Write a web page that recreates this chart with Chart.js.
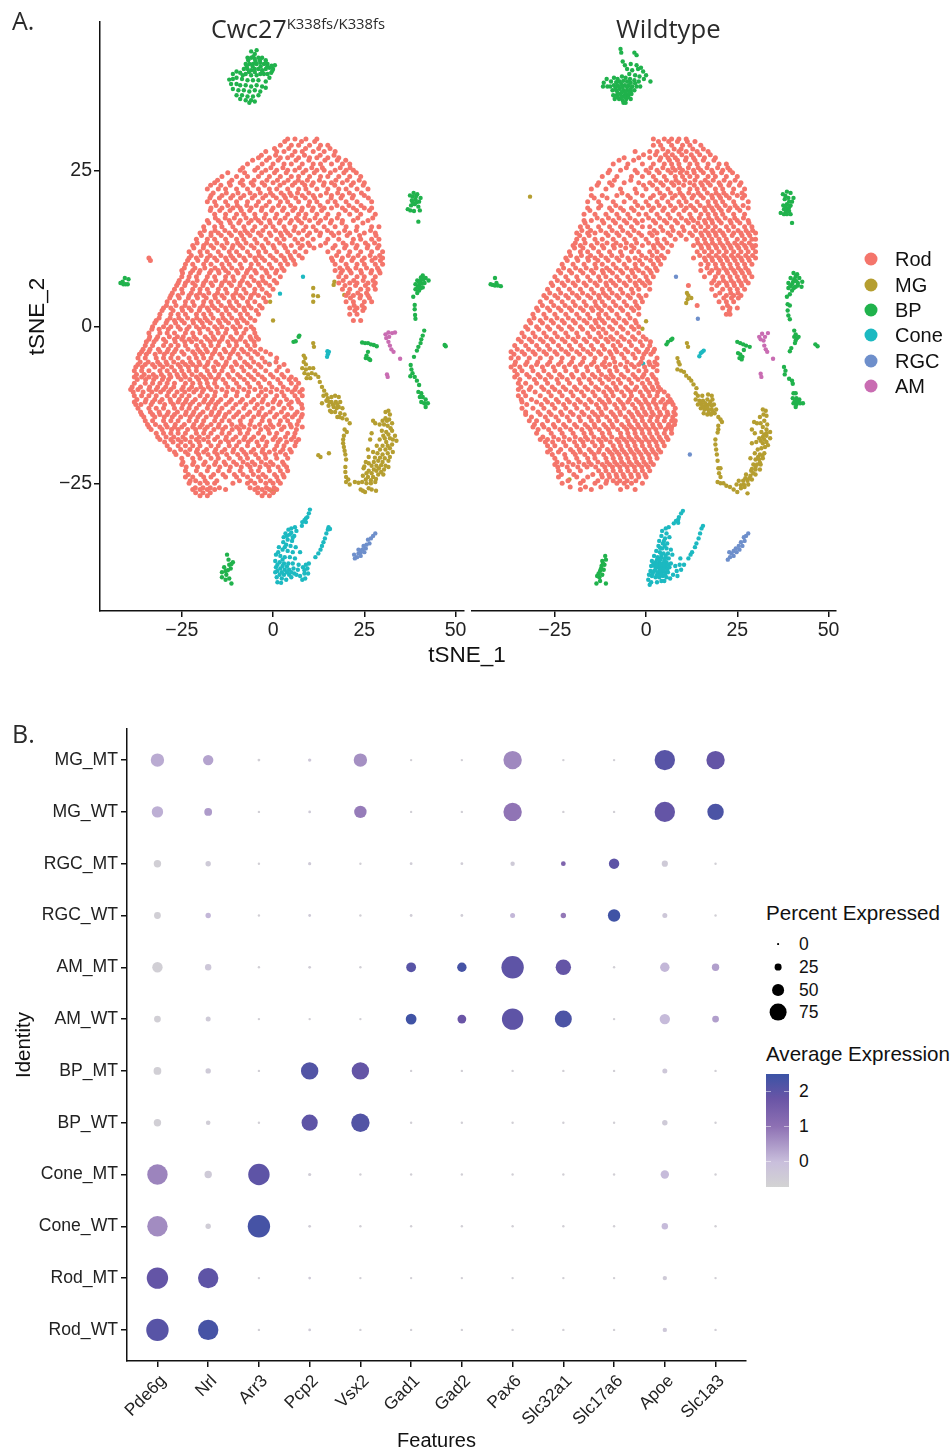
<!DOCTYPE html>
<html><head><meta charset="utf-8">
<script src="https://cdn.jsdelivr.net/npm/chart.js@4/dist/chart.umd.min.js"></script>
<style>
html,body{margin:0;padding:0;background:#fff}
body{position:relative;width:951px;height:1451px;overflow:hidden;font-family:"Liberation Sans",sans-serif;color:#111}
canvas{position:absolute}
.t{position:absolute;white-space:nowrap;line-height:1}
.o{font-family:"Open Sans",sans-serif;color:#2a2a2a}
.c{transform:translate(-50%,-50%)}
.d{position:absolute;border-radius:50%;transform:translate(-50%,-50%)}
</style></head><body>
<canvas id="left" width="470" height="680" style="left:0;top:0"></canvas>
<canvas id="right" width="400" height="680" style="left:465px;top:0"></canvas>
<canvas id="dots" width="760" height="753" style="left:0;top:700px"></canvas>

<div class="t o" style="left:12px;top:8px;font-size:25px">A.</div>
<div class="t o" style="left:12px;top:721px;font-size:25px">B.</div>
<div class="t o" style="left:211px;top:16px;font-size:25px">Cwc27<span style="font-size:14.8px;position:relative;top:-9px">K338fs/K338fs</span></div>
<div class="t o" style="left:616px;top:16px;font-size:25.7px">Wildtype</div>
<div class="t c" style="left:467px;top:655px;font-size:22.5px">tSNE_1</div>
<div id="typeLegend"></div>

<div class="t" style="left:766px;top:903px;font-size:20.6px">Percent Expressed</div>
<div id="sizeLegend"></div>
<div class="t" style="left:766px;top:1044px;font-size:20.6px">Average Expression</div>
<div style="position:absolute;left:766px;top:1074px;width:23px;height:113px;background:linear-gradient(to top,#d3d3d3 0%,#c9bfdc 22%,#8d70b3 54%,#6a55a6 78%,#3b53a5 100%)"></div>
<div id="colorLegend"></div>

<script>
// ---------- Panel A: tSNE points ----------
// Rod clusters are listed as rows: tSNE_2 value, then the tSNE_1 values on that row.
const rodMtRows = [
[30,4,6,9,12],[29,2,5,7,10,13,15],[28,-2,1,3,6,8,11,14,17],[27,-4,-1,2,4,7,10,12,15,18],
[26,-7,-3,0,3,5,8,11,13,16,19,21],[25,-9,-5,-2,1,4,6,9,12,14,17,20,22],
[24,-14,-10,-7,-4,-1,2,5,7,10,13,15,18,21,24],[23,-16,-12,-9,-6,-3,0,3,6,8,11,14,16,19,22,25],
[22,-18,-15,-13,-10,-7,-4,-1,1,4,7,9,12,15,18,20,23,26],[21,-17,-14,-11,-8,-5,-2,0,3,5,8,11,13,16,19,22,25],
[20,-18,-16,-13,-10,-7,-4,-1,2,4,7,10,12,15,17,20,23,27],[19,-17,-14,-11,-9,-6,-3,0,3,6,8,11,14,16,19,22,25,27],
[18,-16,-13,-10,-8,-5,-2,1,4,7,9,12,15,18,21,24,28],[17,-18,-15,-12,-9,-6,-4,-1,2,5,7,10,13,16,19,22,26],
[16,-19,-16,-14,-11,-8,-5,-2,0,3,6,9,11,14,17,20,23,27,29],[15,-20,-17,-15,-12,-9,-7,-4,-1,2,4,7,10,13,16,18,21,25,28],
[14,-21,-18,-16,-13,-10,-8,-5,-2,1,3,6,8,11,15,18,22,24,27,29],[13,-22,-19,-17,-14,-11,-9,-6,-3,0,3,5,8,10,13,17,20,23,26,29],
[12,-23,-20,-18,-15,-12,-10,-7,-4,-2,1,4,6,9,15,18,21,24,27,30],[11,-23,-21,-18,-16,-13,-11,-8,-5,-3,0,3,5,8,16,19,22,25,28,30],
[10,-24,-22,-19,-17,-14,-12,-9,-6,-4,-1,2,4,6,17,20,23,25,28,30],[9,-25,-22,-20,-17,-15,-13,-10,-7,-5,-2,1,3,17,19,21,24,27,29],
[8,-25,-23,-21,-18,-16,-13,-11,-8,-6,-3,-1,2,18,20,23,25,28],[7,-26,-24,-22,-19,-17,-14,-12,-9,-7,-4,-2,1,18,21,23,26,28],
[6,-27,-25,-22,-20,-18,-15,-13,-10,-8,-5,-3,0,19,21,24,26,28],[5,-28,-26,-23,-21,-19,-16,-14,-11,-9,-6,-4,-1,20,22,24,26],
[4,-29,-27,-24,-22,-19,-17,-15,-12,-10,-7,-5,-2,20,22,25,27],[3,-30,-28,-25,-23,-20,-18,-16,-13,-11,-8,-6,-3,21,23,25],
[2,-31,-28,-26,-24,-21,-19,-17,-14,-12,-9,-7,-4,21,23],[1,-32,-29,-27,-25,-22,-20,-18,-15,-13,-10,-8,-5,22,24],
[0,-33,-30,-28,-26,-23,-21,-19,-16,-14,-11,-9,-6],[-1,-34,-31,-29,-27,-24,-22,-20,-17,-15,-13,-10,-8,-5],
[-2,-34,-32,-30,-27,-25,-23,-21,-18,-16,-14,-11,-9,-6,-4],[-3,-35,-33,-30,-28,-26,-24,-21,-19,-17,-15,-12,-10,-7,-5],
[-4,-36,-34,-31,-29,-27,-25,-22,-20,-18,-16,-13,-11,-8,-5,-2],[-5,-37,-35,-32,-30,-28,-26,-23,-21,-19,-17,-14,-12,-9,-6,-3,1],
[-6,-37,-35,-33,-31,-29,-26,-24,-22,-20,-18,-15,-13,-10,-7,-4,-1,3],[-7,-38,-36,-34,-31,-29,-27,-25,-23,-21,-18,-16,-14,-11,-8,-5,-2,1,4],
[-8,-38,-36,-34,-32,-30,-28,-26,-24,-21,-19,-17,-15,-12,-9,-6,-3,0,3,5],[-9,-38,-35,-33,-31,-29,-27,-24,-22,-20,-18,-16,-13,-10,-7,-4,-1,2,5,7],
[-10,-39,-37,-34,-32,-30,-28,-25,-23,-21,-19,-17,-14,-11,-8,-5,-2,1,4,6,8],[-11,-38,-36,-34,-32,-29,-27,-25,-23,-20,-18,-16,-13,-10,-7,-4,-2,1,3,6,8],
[-12,-38,-35,-33,-31,-28,-26,-24,-22,-19,-17,-15,-12,-9,-6,-3,0,2,5,7],[-13,-37,-34,-32,-30,-27,-25,-23,-21,-18,-16,-14,-11,-8,-5,-3,0,3,5,8],
[-14,-36,-33,-31,-29,-27,-24,-22,-20,-17,-15,-13,-10,-7,-4,-2,1,4,6,8],[-15,-35,-33,-30,-28,-26,-23,-21,-19,-16,-14,-12,-9,-6,-3,-1,2,4,7],
[-16,-34,-31,-29,-27,-25,-22,-20,-18,-15,-13,-10,-8,-5,-2,0,3,5,8],[-17,-32,-30,-28,-26,-24,-21,-19,-17,-14,-12,-9,-7,-4,-1,1,4,6],
[-18,-31,-28,-26,-24,-21,-19,-16,-13,-11,-8,-6,-3,0,2,5,7],[-19,-29,-26,-24,-22,-20,-17,-15,-12,-10,-7,-4,-2,1,3,6],
[-20,-27,-24,-21,-19,-16,-14,-11,-8,-6,-3,-1,2,5],[-21,-25,-22,-20,-17,-15,-12,-9,-7,-4,-2,1,4],
[-22,-25,-22,-19,-16,-13,-10,-7,-5,-2,0,3],[-23,-24,-21,-18,-15,-12,-9,-6,-4,-1,2,4],
[-24,-24,-22,-19,-17,-13,-10,-7,-4,-2,1,3],[-25,-23,-20,-18,-16,-11,-7,-5,-2,0,2],
[-26,-22,-20,-18,-16,-13,-5,-3,-1,1],[-27,-20,-18,-3,-1],[11,-34],[10.6,-33.6]
];
const rodMtExtra = [
[29.6,3.2,7.8,11.4],[28.5,.4,4.3,8.9,12.5,15.6],[27.4,-3.2,.7,5.2,8.6,12.9,16.7],[26.6,-5.6,-1.8,1.4,6.3,9.8,14.2,17.6,19.9],
[25.4,-8.3,-4.2,-.6,2.7,7.2,10.6,13.5,18.4,21.1],[24.6,-12.4,-7.8,-3.1,.4,3.6,8.2,11.3,15.7,19.4,22.8],
[23.4,-15.2,-11.3,-8.4,-5.2,-1.7,1.2,4.1,6.9,9.4,12.7,17.2,20.3,23.6],[22.6,-17.1,-14.3,-11.7,-8.2,-5.4,-2.3,1.9,5.3,8.7,10.6,13.8,16.9,21.4,24.7],
[21.4,-16.4,-12.8,-9.6,-6.3,-3.5,-.7,2.2,4.6,6.7,9.8,14.6,17.7,20.9,24.2],[20.6,-17.3,-14.7,-11.6,-8.9,-5.7,-2.8,.9,3.4,6.2,8.8,11.4,15.9,18.6,21.7,26.1],
[19.4,-15.6,-12.4,-9.8,-7.2,-4.6,-1.9,1.5,4.8,9.7,12.9,17.5,20.8,24.1],[18.6,-17.2,-14.6,-11.8,-8.7,-6.4,-3.2,-.4,2.6,5.4,7.8,10.7,13.3,19.8,22.9,26.4],
[17.4,-15.8,-13.1,-10.6,-7.4,-4.8,-2.4,.6,3.3,6.4,8.7,11.5,14.4,17.6,23.2,27.3],[16.6,-17.6,-14.3,-11.7,-9.4,-6.7,-3.3,-.8,1.7,4.6,7.8,12.4,15.7,18.9,24.6],
[15.4,-18.8,-15.9,-13.2,-10.3,-7.7,-5.6,-2.8,.7,3.4,5.7,8.3,11.8,14.9,19.6,22.8,26.7],[14.6,-19.6,-17,-14.2,-11.4,-8.6,-6.3,-3.3,-.6,2.3,4.7,9.4,12.8,16.6,20.3,23.7,28.2],
[13.4,-20.8,-18.2,-15.4,-12.6,-9.7,-7.4,-4.4,-1.3,1.8,6.8,9.6,14.4,19.2,21.7,25.3,27.8],[12.6,-21.7,-19.1,-16.3,-13.4,-11.2,-8.3,-5.2,-2.6,.3,3.4,7.4,11.2,16.4,19.6,22.7,25.8,28.6],
[11.4,-22.4,-19.7,-17.2,-14.3,-11.6,-9.2,-6.3,-3.8,-.8,2.2,4.7,7.1,17.4,20.6,23.3,26.6,29.2],[10.6,-23.4,-20.6,-18.3,-15.4,-12.7,-10.4,-7.6,-4.7,-2.3,.8,3.3,5.6,16.3,18.7,21.6,24.4,27.1,29.4],
[9.4,-24.3,-21.4,-18.7,-15.9,-13.6,-11.3,-8.6,-6.2,-3.1,-.4,2.4,18.3,20.4,22.7,25.6,28.6],[8.6,-24.8,-22.6,-20.3,-17.4,-14.8,-12.2,-9.6,-7.3,-4.6,-1.7,.7,18.6,21.4,24.2,26.8,29.3],
[7.4,-25.7,-23.3,-20.8,-18.4,-15.7,-13.1,-10.7,-8.4,-5.2,-2.8,.3,19.2,22.1,24.7,27.4],[6.6,-26.4,-24.2,-21.3,-19.2,-16.6,-14.2,-11.4,-9.1,-6.4,-3.7,-.9,19.7,22.6,25.3,27.6],
[5.4,-27.6,-24.8,-22.4,-20.1,-17.6,-15.2,-12.6,-10.2,-7.4,-5.1,-1.8,20.6,23.2,25.6],[4.6,-28.3,-25.7,-23.2,-20.7,-18.3,-15.8,-13.4,-10.8,-8.3,-6.2,-2.6,21.2,23.8,26.4],
[3.4,-29.2,-26.6,-24.1,-21.6,-19.2,-16.7,-14.2,-11.7,-9.3,-6.7,-3.7,22.2,24.4],[2.6,-30.4,-27.4,-24.8,-22.4,-20.2,-17.6,-15.1,-12.8,-10.2,-7.8,-4.6,22.4,24.6],
[1.4,-31.2,-28.2,-25.8,-23.4,-20.9,-18.6,-16.4,-13.7,-11.3,-8.7,-6.2],[.6,-32.4,-29.3,-26.7,-24.3,-21.8,-19.4,-17.2,-14.6,-12.2,-9.7,-7.1],
[-.4,-33.2,-31.2,-28.7,-25.4,-23.6,-20.2,-17.8,-15.3,-12.7,-10.3,-7.4,-5.3],[-1.6,-33.8,-31.6,-28.4,-26.2,-24.6,-21.7,-18.6,-16.4,-13.8,-11.6,-8.7,-6.3,-4.6],
[-2.4,-34.7,-32.6,-29.4,-26.8,-24.2,-22.3,-19.7,-17.2,-14.7,-12.4,-10.1,-7.6,-5.2],[-3.6,-35.6,-33.7,-31.4,-28.7,-26.6,-23.3,-20.6,-18.4,-15.8,-13.4,-10.7,-8.6,-6.2,-3.4],
[-4.4,-36.6,-34.7,-32.3,-29.8,-27.6,-24.4,-21.4,-19.3,-16.6,-14.6,-11.7,-9.6,-6.9,-4.2,-.7],[-5.6,-36.4,-34.2,-31.6,-29.3,-27.2,-24.8,-22.6,-20.3,-17.8,-15.7,-12.8,-10.4,-7.8,-5.3,-2.2,.8],
[-6.4,-37.6,-35.8,-32.4,-30.2,-27.8,-25.4,-23.2,-21,-18.7,-16.3,-13.6,-11.4,-8.6,-6.2,-3.3,1.7],[-7.6,-37.4,-35.3,-32.8,-30.6,-28.3,-26.3,-24.4,-22.2,-19.8,-17.4,-14.8,-12.4,-9.7,-6.8,-4.1,-.7,2.4],
[-8.4,-37.2,-34.9,-32.7,-30.3,-28.6,-25.2,-22.8,-20.4,-18.3,-15.8,-13.7,-10.8,-7.9,-5.2,-2.3,1.3,4.4,6.2],[-9.6,-38.6,-36.3,-33.8,-31.6,-29.4,-27.2,-24.6,-22.3,-19.8,-17.7,-15.4,-12.4,-9.3,-6.4,-3.4,-.3,2.8,6.3],
[-10.4,-38.3,-35.6,-33.2,-30.8,-28.6,-26.3,-24.2,-21.7,-19.4,-15.8,-12.7,-9.8,-6.7,-3.2,-.6,2.4,5.2,7.3],[-11.6,-37.3,-34.8,-32.4,-30.4,-28.2,-25.7,-23.7,-21.3,-18.7,-16.6,-14.3,-11.4,-8.4,-5.3,-2.7,.4,3.7,6.7],
[-12.4,-37.6,-36.2,-33.4,-29.7,-27.3,-24.7,-22.7,-20.2,-17.7,-15.7,-12.9,-10.2,-7.4,-4.3,-1.4,1.6,4.3,7.8],[-13.6,-36.3,-33.6,-31.2,-28.7,-26.2,-23.8,-21.7,-19.2,-16.8,-14.7,-12,-9.4,-6.4,-3.8,-.8,2.3,6.6],
[-14.4,-35.4,-32.4,-29.8,-27.6,-25.3,-22.7,-20.6,-18.3,-15.7,-13.3,-10.8,-8.2,-5.3,-2.7,.4,3.2,5.3,7.7],[-15.6,-34.4,-32.2,-29.4,-26.8,-24.3,-21.7,-19.4,-17,-14.8,-11.3,-8.8,-6.3,-3.7,-.7,1.6,4.7,6.6],
[-16.4,-33.4,-30.4,-27.8,-26,-23.4,-21.2,-18.7,-16.2,-13.8,-11.2,-9.2,-6.6,-3.4,-1.3,2.3,6.4],[-17.6,-31.6,-29.3,-27.2,-24.7,-22.3,-20.2,-17.8,-15.2,-12.8,-10.2,-7.7,-5.3,-2.6,.6,3.4,5.7],
[-18.4,-29.7,-27.4,-25.2,-22.7,-20.3,-17.7,-14.4,-12.2,-9.3,-6.8,-4.4,-1.7,1.4,3.7,6.3],[-19.6,-28.3,-25.3,-22.8,-20.7,-18.2,-15.7,-13.2,-10.8,-8.6,-5.3,-2.8,.4,2.7,4.6],
[-20.4,-26.6,-23.3,-20.4,-17.8,-15.3,-12.7,-9.7,-7.4,-4.8,-2.2,.7,3.4],[-21.6,-24.7,-21.7,-18.6,-15.7,-13.4,-10.8,-8.2,-5.7,-3.2,-.7,2.6],
[-22.4,-23.8,-20.7,-17.6,-14.6,-11.7,-8.7,-6.3,-3.6,-1.2,1.4,3.7],[-23.6,-23.2,-19.8,-16.3,-13.7,-10.6,-8.2,-5.4,-2.8,.4,2.7],
[-24.6,-22.7,-21.2,-18.6,-15.4,-9.2,-6.1,-3.4,-.8,1.4],[-25.7,-21.3,-19.2,-17.2,-14.7,-6.3,-4.2,-1.8,.3],[-26.5,-21.2,-19.2,-17.2,-4.2,-2.2,0]
];
const rodWtRows = [
[30,2,5,7,9,11],[29,2,4,7,10,12,15],[28,-3,1,3,6,9,11,14,17],[27,-6,-2,1,4,6,8,11,13,16,19],
[26,-9,-5,-1,2,5,7,9,12,14,17,20,22],[25,-10,-7,-3,0,3,6,8,10,13,15,18,21,23],
[24,-12,-8,-4,-1,2,5,8,10,12,14,17,19,22,25],[23,-13,-10,-6,-2,1,4,7,9,12,15,17,20,23,26],
[22,-15,-11,-7,-3,0,3,6,9,12,14,16,19,21,24,27],[21,-15,-12,-8,-5,-1,2,5,8,10,13,15,18,20,22,25,27],
[20,-16,-13,-9,-6,-3,0,3,6,9,11,14,17,19,21,24,28],[19,-16,-13,-10,-7,-4,-1,2,5,8,11,13,16,18,20,23,25,28],
[18,-17,-14,-11,-8,-5,-2,0,3,6,9,12,15,17,19,21,24,27],[17,-17,-15,-12,-9,-6,-3,-1,2,5,8,11,13,16,18,20,23,25,28],
[16,-18,-16,-13,-10,-7,-4,-1,1,4,7,10,13,15,17,19,22,24,27,29],[15,-19,-16,-14,-11,-8,-5,-2,1,3,6,9,12,15,17,19,21,24,26,28,30],
[14,-19,-17,-14,-12,-9,-6,-3,0,3,5,8,11,14,16,18,20,22,25,27,29,30],[13,-20,-18,-15,-12,-9,-7,-4,-1,2,4,7,13,15,17,19,21,23,25,27,29,30],
[12,-21,-18,-16,-13,-10,-7,-4,-2,1,3,6,14,16,18,20,22,24,26,28,30],[11,-22,-19,-16,-14,-11,-8,-5,-3,0,3,5,13,16,18,20,22,24,26,28,30],
[10,-23,-20,-17,-14,-12,-9,-6,-3,-1,2,4,15,17,19,21,23,25,27,29],[9,-24,-21,-18,-15,-12,-10,-7,-4,-2,1,3,15,18,20,22,24,26,28],
[8,-25,-22,-19,-16,-13,-11,-8,-5,-3,0,2,16,19,21,23,25,27,29],[7,-26,-23,-20,-17,-14,-11,-9,-6,-3,-1,1,18,20,22,24,26,28],
[6,-27,-24,-21,-18,-15,-12,-10,-7,-4,-2,1,18,21,23,25,27],[5,-28,-25,-22,-19,-16,-13,-11,-8,-5,-2,0,19,22,24,26],
[4,-29,-26,-23,-20,-17,-14,-12,-9,-6,-3,-1,20,22,24],[3,-30,-27,-24,-21,-18,-15,-13,-10,-7,-4,-2,21,23,25],
[2,-31,-28,-25,-22,-19,-16,-13,-11,-8,-5,-2,22,23],[1,-32,-29,-26,-23,-20,-17,-14,-12,-9,-6,-3],
[0,-33,-30,-27,-24,-21,-18,-15,-13,-10,-7,-4,-2],[-1,-34,-31,-28,-25,-22,-19,-16,-13,-11,-8,-5,-2],
[-2,-35,-32,-29,-26,-23,-20,-17,-14,-11,-9,-6,-3,0],[-3,-36,-33,-30,-27,-24,-21,-18,-15,-12,-9,-7,-4,-1,1],
[-4,-37,-34,-31,-28,-25,-22,-19,-16,-13,-10,-8,-5,-2,0,2],[-5,-37,-35,-32,-29,-26,-23,-20,-17,-14,-11,-9,-6,-3,-1,3],
[-6,-36,-33,-30,-27,-24,-21,-18,-15,-12,-10,-7,-4,-2,1,3],[-7,-36,-34,-31,-28,-25,-22,-19,-16,-13,-10,-8,-5,-2,0,3],
[-8,-36,-32,-29,-26,-23,-20,-17,-14,-11,-9,-6,-3,-1,2],[-9,-35,-33,-30,-27,-24,-21,-18,-15,-12,-9,-7,-4,-1,1,3],
[-10,-35,-32,-28,-25,-22,-19,-16,-13,-10,-8,-5,-3,0,2,4],[-11,-35,-33,-29,-26,-23,-20,-17,-14,-11,-9,-6,-4,-1,1,3,6],
[-12,-34,-30,-27,-24,-21,-18,-15,-12,-10,-7,-5,-2,0,2,4,6,7],[-13,-34,-31,-28,-25,-22,-19,-16,-13,-11,-8,-6,-3,-1,1,3,5,8],
[-14,-33,-29,-26,-23,-20,-17,-14,-12,-9,-7,-4,-2,0,2,4,6,8],[-15,-32,-30,-27,-24,-21,-18,-15,-13,-10,-8,-5,-3,-1,1,3,5,7,8],
[-16,-31,-28,-25,-22,-19,-16,-14,-11,-9,-6,-4,-2,0,2,4,6,7],[-17,-30,-26,-23,-20,-17,-15,-12,-10,-7,-5,-3,-1,1,3,5,7],
[-18,-29,-27,-24,-21,-18,-16,-13,-11,-8,-6,-4,-2,0,2,4,6],[-19,-27,-25,-22,-19,-17,-14,-12,-9,-7,-5,-3,-1,1,3,5],
[-20,-27,-24,-20,-18,-15,-13,-10,-8,-6,-4,-2,0,2,4],[-21,-25,-22,-19,-16,-14,-11,-9,-7,-5,-3,-1,1,3],
[-22,-25,-23,-20,-17,-15,-12,-10,-8,-6,-4,-2,0,2],[-23,-24,-21,-18,-13,-11,-9,-7,-5,-3,-1,1],
[-24,-24,-19,-16,-12,-10,-8,-6,-4,-2,0],[-25,-23,-18,-14,-11,-8,-6,-4,-1],[-26,-18,-15,-7,-3],[6.6,11.6],[3.4,14]
];
const rodWtExtra = [
[29.6,3.4,6.2,8.6,11.3,13.4],[28.4,4.6,7.7,9.6,12.8,15.7],[27.5,-.7,2.6,5.3,7.2,9.8,12.4,14.7,17.6],[26.6,-7.4,-3.4,3.7,6.4,8.6,10.8,13.4,15.7,18.6],
[25.4,-5.4,1.3,4.6,7.3,9.2,11.6,14.3,16.7,19.6,22.4],[24.6,-10.4,-2.4,.8,3.6,6.8,9.4,11.2,13.2,15.7,18.3,20.7,23.7],
[23.4,-8.7,-4.2,2.7,5.6,8.2,10.6,13.4,16.2,18.4,21.4,24.4],[22.6,-13.4,-9.3,-.7,1.8,4.7,7.6,10.3,13.2,15.4,17.6,20.4,22.7,25.6],
[21.4,-6.6,-2.6,3.8,6.7,9.3,11.7,14.3,16.8,19.2,21.3,23.7,26.3],[20.6,-14.2,-10.7,-4.3,1.2,4.4,7.2,10.4,12.6,15.7,18.2,20.4,22.8,26.4],
[19.4,-12.4,-8.3,-2.3,.7,3.6,6.7,9.6,12.2,14.8,17.2,19.4,21.7,24.4,26.6],[18.6,-15.4,-9.4,-6.2,-3.3,1.4,4.6,7.4,10.4,13.6,16.2,18.4,20.6,22.6,25.7],
[17.4,-13.4,-10.3,-7.4,-4.4,.7,3.7,6.6,9.7,12.4,14.6,17.2,19.4,21.7,24.3,26.7],[16.6,-16.7,-11.6,-8.4,-5.3,-2.4,2.6,5.7,8.6,11.6,14.2,16.3,18.2,20.6,23.3,25.7,28.2],
[15.4,-17.6,-15.2,-12.4,-9.3,-6.4,-3.3,2.2,4.6,7.4,10.4,13.6,16.2,18.3,20.2,22.6,25.2,27.4,29.2],[14.6,-18.2,-15.6,-10.4,-7.4,-4.3,-1.2,1.7,6.7,9.6,12.7,15.3,17.3,19.2,21.4,23.6,26.3,28.4],
[13.4,-19.4,-16.7,-13.4,-10.7,-8.2,-5.4,-2.6,.7,3.2,5.7,14.2,16.3,18.2,20.3,22.4,24.3,26.2,28.3],[12.6,-19.6,-17.3,-14.4,-11.6,-8.7,-5.6,-3.3,2.2,4.6,15.2,17.2,19.3,21.4,23.3,25.4,27.4,29.3],
[11.4,-20.7,-17.7,-15.2,-12.3,-9.4,-6.6,-1.2,1.7,4.2,14.7,17.2,19.2,21.3,23.4,25.2,27.3,29.2],[10.6,-21.6,-18.7,-15.8,-13.2,-10.4,-7.4,-4.6,-1.8,1.2,3.4,16.3,18.2,20.4,22.3,24.4,26.3,28.3],
[9.4,-22.6,-19.3,-16.4,-13.7,-10.8,-8.2,-5.3,-2.8,.2,2.6,16.7,19.2,21.3,23.3,25.3,27.3],[8.6,-23.4,-20.4,-17.3,-14.4,-11.7,-9.2,-6.4,-3.7,-.8,1.4,17.4,19.8,22.3,24.4,26.4,28.3],
[7.4,-24.3,-21.4,-18.6,-15.3,-12.6,-9.7,-7.3,-4.4,-1.8,.4,18.6,21.2,23.3,25.4,27.3],[6.6,-25.6,-22.4,-19.4,-16.4,-13.4,-10.8,-8.3,-5.4,-2.7,-.3,19.4,22.2,24.2,26.2],
[5.4,-26.4,-23.4,-20.2,-17.4,-14.3,-11.7,-9.3,-6.4,-3.6,20.2,23.2,25.2],[4.6,-27.3,-24.2,-21.3,-18.4,-15.2,-12.8,-10.2,-7.4,-4.3,-1.4,21.3,23.4,25.3],
[3.4,-28.4,-25.3,-22.2,-19.4,-16.4,-13.7,-11.3,-8.3,-5.3,-2.6,22.3],[2.6,-29.6,-26.4,-23.3,-20.4,-17.2,-14.6,-12.2,-9.4,-6.4,-3.4,22.8],
[1.4,-30.7,-27.4,-24.4,-21.3,-18.3,-15.4,-12.8,-10.3,-7.4,-4.4],[.6,-31.6,-28.4,-25.4,-22.4,-19.4,-16.2,-13.7,-11.4,-8.3,-5.4,-2.7],
[-.4,-32.4,-29.4,-26.4,-23.2,-20.3,-17.4,-14.4,-11.8,-9.2,-6.3,-3.3],[-1.6,-33.4,-30.4,-27.3,-24.3,-21.4,-18.6,-15.4,-12.4,-9.7,-6.8,-3.7,-.8],
[-2.4,-34.2,-31.3,-28.2,-25.4,-22.2,-19.3,-16.3,-13.3,-10.4,-7.7,-4.6,-1.6,1.2],[-3.6,-35.3,-32.2,-29.3,-26.4,-23.2,-20.4,-17.2,-14.4,-11.4,-8.4,-5.7,-2.7,.4,2.3],
[-4.4,-36.2,-33.3,-30.4,-27.3,-24.4,-21.3,-18.2,-15.2,-12.4,-9.6,-6.7,-3.6,-.6,1.3],[-5.6,-35.8,-32.6,-29.7,-26.4,-23.3,-20.4,-17.4,-14.3,-11.4,-8.6,-5.2,-1.4,.8,2.4],
[-6.4,-37,-34.6,-31.4,-28.4,-25.4,-22.4,-19.4,-16.3,-13.4,-11.2,-8.4,-5.6,-3.2,-.4,2],[-7.6,-35.3,-32.7,-29.6,-26.7,-23.7,-20.4,-17.3,-14.7,-12.2,-9.6,-6.8,-3.6,-.6,1.6],
[-8.4,-34.6,-30.6,-27.6,-24.4,-21.6,-18.4,-15.6,-12.7,-10.2,-7.6,-4.7,-2.2,.4,2.7],[-9.6,-34.3,-31.6,-28.6,-25.7,-22.7,-19.6,-16.7,-13.8,-10.8,-8.3,-5.6,-2.6,-.4,1.7,3.4],
[-10.4,-33.6,-30.4,-26.7,-23.7,-20.6,-17.7,-14.6,-11.6,-9.4,-6.7,-4.2,-1.6,.7,3.2,5],[-11.6,-34.2,-31.4,-27.6,-24.6,-21.6,-18.7,-15.6,-12.8,-10.3,-7.6,-4.6,-2.7,-.3,2.2,4.6,6.6],
[-12.4,-32.7,-28.7,-25.7,-22.6,-19.6,-16.7,-13.6,-11.3,-8.6,-6.3,-3.7,-1.3,.7,2.7,5.2,7.4],[-13.6,-33,-29.6,-26.6,-23.4,-20.7,-17.6,-14.7,-12.3,-9.6,-7.2,-4.7,-2.4,-.4,1.6,3.7,5.8,7.6],
[-14.4,-31.4,-27.6,-24.7,-21.6,-18.4,-15.6,-13.2,-10.8,-8.4,-5.7,-3.6,-1.2,1.3,3.2,5.3,7.3],[-15.6,-30.6,-28.4,-25.4,-22.6,-19.6,-16.7,-14.2,-11.6,-9.3,-6.7,-4.6,-2.3,-.3,1.8,3.7,6.2,7.8],
[-16.4,-29.6,-26.7,-23.6,-20.7,-17.6,-15.3,-12.8,-10.3,-7.8,-5.3,-3.2,-1.2,.8,2.7,5.3,6.9],[-17.6,-28.3,-25.3,-22.4,-19.4,-16.6,-14.3,-11.7,-9.4,-6.8,-4.7,-2.6,-.4,1.6,3.6,5.6],
[-18.4,-27.6,-25.6,-22.6,-19.6,-17.3,-14.7,-12.3,-9.8,-7.4,-5.3,-3.3,-1.2,.8,2.7,4.6],[-19.6,-26.2,-23.4,-20.7,-18.3,-15.6,-12.8,-10.6,-8.6,-6.6,-4.4,-2.6,-.4,1.6,3.4],
[-20.4,-25.7,-22.3,-19.4,-16.8,-14.2,-11.6,-9.3,-7.4,-5.4,-3.3,-1.4,.7,2.7],[-21.6,-24.4,-21.2,-18.4,-15.7,-13.2,-10.7,-8.6,-6.7,-4.6,-2.6,-.6,1.3],
[-22.4,-24.2,-21.6,-18.7,-16.2,-13.8,-11.3,-9.2,-7.2,-5.2,-3.2,-1.2,.6],[-23.6,-23.2,-19.8,-14.6,-12.2,-10.2,-8.2,-6.3,-4.2,-2.2,-.3],
[-24.6,-21.4,-17.2,-13.2,-10.8,-9,-7.2,-5.2,-2.8],[-25.6,-20.8,-16.6,-12.4,-5.2]
];
// Smaller clusters are flat x,y pairs.
const bpMt = [-6,44,-5,43.6,-4.5,44.2,-7,43,-6,43,-5,42.8,-4,43,-3,43,-2,42.6,-7.5,42,-6.5,42,-5.5,42,-4.5,42,-3.5,42.2,-2.5,42,-1.5,42,-8,41.2,-7,41.2,-6,41,-5,41.2,-4,41.2,-3,41,-2,41.2,-1,41.4,0,41.2,.5,41.8,-7.5,40.4,-6,40.2,-4.5,40.2,-3.5,40.4,-2.5,40.4,-1.5,40.4,-.5,40.6,-1,39.8,-11,40.4,-10,40.8,-9,40.6,-12,39.5,-11,39.6,-10,39.8,-8.5,39.6,-7,39.4,-5.5,39.4,-4,39.4,-2,39.2,-11.5,38.8,-10,38.8,-9,38.6,-7.5,38.6,-6,38.4,-4.5,38.6,-3,38.4,-2,38.2,-11,38,-9.5,37.8,-8,37.8,-6.5,37.6,-5,37.8,-3.5,37.6,-10,37,-8.5,37,-7,36.8,-5.5,36.8,-4,37,-9,36.4,-7.5,36.2,-6,36.2,-5,36,-6.5,35.8,
-5.4,43.2,-3.6,42.6,-6.8,42.6,-4.8,42.4,-2,42.2,-7.2,41.6,-5.6,41.6,-3.4,41.6,-1.6,41.6,-.4,41.7,-6.6,40.7,-5,40.7,-2.9,40.7,-.2,40.9,-8.3,40.2,
37.5,21,38.5,21.4,39.5,21.2,40.4,20.6,38,20.2,39,20.4,40,20,37.8,19.4,38.8,19.6,39.8,19.2,36.9,18.8,37.6,18.6,38.6,18.5,40.2,18.6,39.8,16.8,38.2,20.8,39.2,20.9,38.3,19.9,39.3,19.9,
41,8.2,41.8,7.8,42.6,7.4,39.5,7.4,40.5,7.4,41.5,7,39,6.8,40,6.6,41,6.3,39,6,40,5.8,39.5,5.4,38.4,4.8,38.8,3.5,38.8,2.8,38.9,1.9,39,1.3,40.5,7.9,41.2,7.6,40,7.1,40.7,6.9,39.6,6.3,40.5,6.2,
-41.8,7,-41,6.8,-40.4,6.8,-39.8,6.8,-39.6,7.6,-40.6,7.8,-41.2,7.2,
5.6,-2.4,6.2,-2.3,7,-1.6,7.2,-1.4,
24.4,-2.5,25.2,-2.6,26,-2.6,26.8,-2.8,27.6,-2.9,28.4,-3.1,26,-4,25.6,-4.6,25.4,-5,26.2,-5.1,26.6,-5.3,
41.4,-.6,41,-1.4,40.6,-2,40.4,-2.6,39.8,-3.2,39.4,-3.8,38.6,-4.8,47,-2.9,47.3,-3.1,
37.7,-6.1,37.9,-6.8,38.2,-7.4,37.6,-7.9,38.8,-8,39.4,-8.6,40,-9.3,
39.8,-10.4,40.6,-10.6,40.2,-11.2,41,-11.2,41.8,-11.6,40.6,-12,41.4,-12.2,42.4,-12.2,41.8,-12.8,
-12.6,-36.4,-12.2,-37.2,-11,-37.6,-12,-38,-11.6,-38.6,-13,-39,-14,-39.2,-12.8,-39.6,-14,-40,-13,-40.4,-12,-40.2,-11.4,-41,-12.4,-38.9,-13.4,-38.4,-11.4,-37.9];
const bpWt = [-7,44.4,-6.8,43.8,-3.2,43.8,-2.6,43.4,-6.4,42.4,-4.2,42,-5.8,41.8,-2.6,41.8,-1.4,41.4,-5.2,41.2,-3.8,41,-2.2,41.2,-.8,40.8,0,40.2,-4.6,40.4,-3,40.2,-1.8,40,-.6,39.6,1.2,39.2,-11.6,39,-10.8,39.6,-11.8,38.4,-10.6,38.4,-9.6,39.2,-8.8,39.8,-7.8,39.6,-6.6,40,-5.6,39.8,-4.4,39.6,-3.2,39.4,-2,39.2,-9.8,38.4,-8.8,38.6,-7.8,38.6,-6.8,38.8,-5.8,38.6,-4.8,38.6,-3.8,38.4,-2.6,38.4,-1.6,38.4,-9.2,37.8,-8.2,37.8,-7.2,38,-6.2,37.8,-5.2,37.8,-4.2,37.6,-3.2,37.8,-9,37,-8,37,-7,37.2,-6,37,-5,37,-4,37.2,-8.6,36.4,-7.4,36.4,-6.4,36.2,-5.4,36.4,-4.2,36.4,-6.2,35.8,-5.6,35.8,
-8.2,39.1,-7.2,39.2,-6.2,39.3,-5.2,39.2,-4.2,39,-3,38.9,-8.4,38.2,-7.4,38.3,-6.4,38.3,-5.2,38.3,-4.2,38,-7.8,37.4,-6.6,37.5,-5.6,37.4,-4.6,37.4,-7.8,36.7,-6.8,36.7,-5.8,36.7,-4.8,36.7,
37.5,21.2,38.6,21.6,39.6,21.4,40.4,20.6,38,20.4,39,20.6,40,20,37.6,19.4,38.6,19.6,39.6,19.4,37.8,18.8,38.8,18.8,36.9,18.2,37.8,18,38.6,18,39.6,18,40,16.6,38.2,20.9,39.2,20,38.2,19.2,39.2,19.1,38.3,18.4,39.2,18.5,
40.4,8.6,41.4,8.4,42,7.8,42.8,7.2,39.6,7.8,40.6,7.6,41.6,7,39,7,40,6.8,41,6.4,42.6,6.4,39,6.2,40,5.8,39.4,5.2,38.6,4.8,39.4,3.4,38.8,3.6,38.8,2.6,39,1.8,39.4,1.2,41,8,40.3,7.2,41.2,7.3,39.5,6.5,40.5,6.2,41.6,6.6,
-41.4,7.8,-41,7,-42.6,6.8,-42,6.7,-41.4,6.6,-40.6,6.6,-39.8,6.5,
5.6,-2.8,6,-2.4,6.8,-2.1,7.2,-1.9,
25,-2.4,25.8,-2.6,26.6,-2.8,27.4,-3,28.4,-3.2,26.8,-3.7,25.2,-4.2,25.8,-4.4,25.6,-5,26.4,-4.8,26.2,-5.2,
40.6,-.6,41,-1.2,40.6,-1.6,41.4,-1.8,41,-2.2,40.8,-2.6,41.8,-1.6,39.8,-3.4,39.4,-3.9,46.4,-2.8,47,-3.1,
37.8,-6.4,38.2,-7,38,-7.6,39.2,-8.3,40,-8.6,40.2,-9.1,
40.4,-10.6,41,-10.6,40.2,-11.4,41.2,-11.4,42,-11.6,40.4,-12.2,41.2,-12.4,42.2,-12.2,43,-12.2,41,-12.8,40.8,-11.9,41.6,-12,
-11.2,-36.6,-11,-37.2,-12,-37.4,-11.4,-38,-12.2,-38.2,-11.6,-38.8,-12.6,-39,-13,-39.4,-12,-39.6,-12.8,-40,-13.4,-39.8,-12.6,-40.6,-11,-41,-13.6,-41,-11.8,-37.8,-12.4,-38.7];
const mgMt = [8.4,-4.6,8.8,-5,8.4,-5.6,9,-6,11,-2.6,11.2,-3.2,
8,-6.6,9,-6.8,10,-6.6,11,-6.6,8.6,-7.4,9.6,-7.6,10.6,-7.4,11.6,-7.6,12.4,-8,9.2,-8.2,10.2,-8.2,12.8,-8.8,
13.4,-9.6,14,-10.2,14.6,-10.8,13.8,-11,15,-11.4,16,-11.2,17,-11,18,-11.2,14.6,-11.8,16,-12,17.2,-12,18.4,-12,13.4,-12.2,15.2,-12.6,16.6,-12.8,18,-12.8,19,-13,15.6,-13.4,17,-13.6,18.4,-13.8,19.6,-14,17.6,-14.4,19,-14.6,20.2,-14.8,21,-15.4,
19.6,-16.4,20.2,-16.8,19.4,-17.4,19.2,-18,19.2,-18.6,19.4,-19.2,19.6,-19.8,19.8,-20.4,20,-21.2,
19.8,-22.4,19.8,-23.2,20,-24,20.6,-24.4,20,-24.8,21,-25.2,22.4,-24.8,23.4,-24.9,24,-26,24.6,-26.2,25.2,-26.4,
30.8,-13.6,31.6,-13.4,32,-14,30.8,-14.6,31.8,-14.8,30,-15,27.4,-15,28,-15.4,29.2,-15.6,30.4,-15.6,31.4,-15.8,32.6,-15.4,32.6,-16.6,31,-16.8,29.8,-16.6,33.4,-17.4,32,-17.8,30.6,-17.8,27,-17,26.6,-18,33.8,-18.2,32.6,-18.8,31.4,-19,30,-19,28.4,-19,26,-19.6,32.8,-20,31.4,-20.2,30,-20.4,28.6,-20.2,27.4,-20,26.2,-20.8,31.6,-21.4,30,-21.6,28.8,-21.4,27.6,-21.6,26.2,-21.8,25.4,-21.6,31.6,-22.4,30.4,-22.8,29,-22.6,27.6,-22.8,26.2,-23,24.8,-22.6,30.2,-23.6,28.8,-23.6,27.4,-24,26,-24,24.6,-23.8,24.4,-24.8,25.6,-25,26.8,-25,28,-24.8,26.2,-25.8,27,-26,28.2,-26.2,
31.2,-15,32.2,-16.2,31.6,-17.2,30.2,-17.4,32.8,-18,31,-18.4,29.2,-18,32,-19.4,30.8,-19.6,29.3,-19.6,32,-20.8,30.6,-21,29.3,-20.9,27.9,-20.9,30.8,-22.2,29.6,-22.1,28.3,-22.2,27,-22.2,29.6,-23.2,28.3,-23,27,-23.4,25.6,-23.4,28.2,-24.3,26.8,-24.5,25.4,-24.4,25,-22.3,
15.4,-12,16.4,-12.4,17.6,-12.4,17.4,-13,16,-13.6,18.2,-14.4,
12.4,-20.5,13,-20.8,15.3,-20.2,-.5,-26.2,.2,-26.4,
16.6,6.7,16.8,7.2,11,5,11,4,12.3,4.9,19.5,5.1,-.8,4,0,1,11,6.2];
const mgWt = [8.6,-5,8.9,-5.6,9.2,-6,8.6,-6.8,9.6,-7,10.4,-7.2,11,-7.8,11.8,-8.2,12.4,-8.6,13,-9.2,13.8,-9.8,
13.6,-10.6,14.2,-11,15.4,-11,17,-10.8,18,-11,13.6,-11.6,14.6,-11.8,15.6,-11.8,16.8,-11.6,18.2,-11.6,14.2,-12.4,15.2,-12.4,16.2,-12.6,17.2,-12.4,18.6,-12.4,15,-13,16,-13.2,17,-13.2,18,-13.2,19.2,-13.2,15.8,-13.8,16.8,-14,17.8,-14,18.8,-13.8,
19.8,-14.4,20.4,-14.8,20.8,-15.2,19.8,-15.8,19.8,-16.4,19.6,-16.9,
19,-18,19,-18.8,19.2,-19.6,19.4,-20.4,19.6,-21.4,
19.8,-22.6,20.4,-22.6,20,-23.4,20.4,-24,19.6,-24.8,20.4,-25,21.2,-25,22,-25.4,23,-25.6,24,-26,25,-26.4,26,-25.8,27,-25.6,27.8,-26.6,
32,-13.2,32.8,-13.4,32.2,-14,33,-14.2,31.2,-14.4,32.4,-15,29.6,-15.2,30.4,-15.4,31.4,-15.4,33.2,-15.6,32,-16,33,-16.4,34,-16.8,31.6,-16.8,29,-16.4,29.8,-17,33,-17.4,34,-17.8,32,-17.6,31,-17.8,33,-18.4,32,-18.6,29,-18.6,30.2,-18.4,32.6,-19.2,31.6,-19.4,30.6,-19.6,32.4,-20.2,31.2,-20.4,29.8,-20.2,32,-21,31,-21.2,30,-21.2,28.6,-21,31.4,-22,30.4,-22,29.4,-22,31.2,-22.8,30,-22.8,28.8,-23,30,-23.6,28.6,-23.8,27.4,-23.6,29,-24.4,27.8,-24.6,26.6,-24.6,25.4,-24.6,28,-25.2,26.8,-25.2,
33,-17,32.4,-17.2,33.4,-18.9,32.4,-18,31.4,-18.2,31.9,-20.6,30.7,-20.8,31.2,-21.7,30,-22.4,29,-22.7,29.4,-23.4,28.3,-24.2,27.2,-24.2,26,-25.3,24.8,-25.2,
15,-12,16.2,-12.2,17.6,-12,15.6,-12.8,16.8,-12.9,18,-12.6,17.2,-13.7,18.3,-13.6,
11.2,5.4,11.6,5,12.4,4.6,11.4,4.4,11,3.8,0,.9,-31.8,20.8,-1,-.3,11.2,-2.6,11.5,-3.2,-21,-24.4];
const coneMt = [10.1,-29.2,9.8,-29.8,9.4,-30.4,9,-30.6,8.6,-30.9,8,-31.2,9,-31.2,7.9,-31.8,
6,-32,5,-32.2,4.2,-32.4,6.4,-32.6,3.4,-33,4.6,-33.2,5.8,-33.4,2.9,-33.6,4,-34,5.2,-34.2,2.8,-34.4,3.6,-34.8,4.8,-35,6.2,-35.2,1.6,-35.2,2.6,-35.6,4,-35.8,5.4,-36,7.4,-36,
.8,-36.4,2,-36.6,3.2,-36.8,4.6,-36.8,6,-37,.6,-37.4,1.8,-37.6,3,-37.8,4.2,-37.8,5.4,-37.8,7,-38,9.8,-37.8,9,-38,.8,-38.4,2,-38.6,3.2,-38.8,4.4,-38.8,5.6,-38.6,6.8,-38.8,8.2,-38.4,9.4,-38.6,.6,-39.2,1.8,-39.6,3,-39.6,4.4,-39.6,5.8,-39.4,7.4,-39.8,8.6,-39.4,9.6,-39.4,1,-40,2.4,-40.2,3.6,-40.4,5,-40,8,-40.4,8.8,-40.2,1.2,-40.8,2.2,-40.9,
5,-32.9,3.8,-33.4,5.4,-33.7,3.2,-35.2,1.4,-36,2.6,-37.2,1.2,-38,2.6,-38.2,3.8,-38.3,1.2,-39,2.4,-39.2,3.8,-39.2,5,-39.2,6.4,-39.6,8.6,-38.9,
15.2,-32,15,-32.4,15.6,-32.3,14.6,-33,14.2,-33.8,13.8,-34.4,13.4,-35,13,-35.6,12.4,-36.2,11.6,-36.8,
14.9,-3.9,15.3,-4,15,-4.4,14.8,-4.8,8.2,8,1.9,5.3,-1,-5.9];
const coneWt = [10.1,-29.4,9.6,-29.8,9,-30.4,8.8,-30.8,8.2,-31,7.6,-31.4,8.8,-31.3,
6.2,-32,5.4,-32.2,4.4,-32.6,5.6,-33,4.2,-33.4,5.2,-33.8,6.4,-33.6,3.6,-34.2,4.6,-34.6,5.8,-34.6,3.4,-35,4.4,-35.4,5.6,-35.4,6.8,-35.6,2.8,-35.8,3.8,-36,4.8,-36.2,6,-36.2,7.2,-36.4,2.2,-36.6,3.2,-36.8,4.2,-36.8,5.2,-37,6.2,-37,1.6,-37.4,2.6,-37.6,3.6,-37.6,4.6,-37.8,5.6,-37.6,6.8,-37.8,9.4,-37,1.4,-38.2,2.4,-38.2,3.4,-38.4,4.4,-38.4,5.4,-38.4,6.4,-38.4,8,-38.2,9.2,-38,10.4,-38,1.2,-39,2.2,-39,3.2,-39.2,4.2,-39.2,5.2,-39.2,6,-39.2,8.4,-39,9.6,-38.8,.8,-39.6,1.6,-39.8,2.6,-40,3.6,-40,4.6,-39.8,5.6,-40,7.4,-39.6,8.6,-39.8,.6,-40.4,1.4,-40.8,3,-40.8,4.2,-40.6,5,-40.6,6.6,-40.2,1,-41.2,
4.9,-34.2,5.1,-35,3.8,-35.3,4.2,-36.4,5.4,-36.6,3,-37.2,4,-37.2,5,-37.4,2,-37.9,3,-38,4,-38,5,-38,6,-38,2.6,-38.7,3.8,-38.8,4.8,-38.8,5.8,-38.8,1.8,-39.4,3,-39.6,4,-39.6,5.2,-39.6,
15.6,-31.8,15.2,-32.2,14.8,-33,14.4,-33.8,13.8,-34.6,13.4,-35.2,12.6,-36,12.2,-36.4,11.6,-37,
14.6,-4.7,15,-4.2,15.4,-4,15.8,-3.8,-.8,-5.9];
const rgcMt = [28,-33,27.4,-33.4,26.8,-33.8,26,-34,26.4,-34.6,25.6,-34.8,24.8,-35,25.4,-35.4,24.4,-35.6,24,-36,25,-36,23.4,-36.2,24,-36.6,23,-36.8,22.4,-37,22.2,-36.4,23.4,-35.6];
const rgcWt = [28,-33,27.4,-33.4,26.8,-33.6,27,-34.2,26,-34.4,26.4,-35,25.4,-35,24.6,-35.4,25.6,-35.6,24,-35.8,24.8,-36,23.4,-36.2,24,-36.6,23,-36.8,22.4,-37.2,22.8,-36,8.2,8,14.2,1.3,12,-20.4];
const amMt = [30.8,-1.2,31.6,-.9,32.6,-1,33.4,-.9,31,-1.8,31.8,-1.6,31.6,-2.4,32,-3,32.4,-3.6,33,-4,34.8,-5.1,31.2,-7.6,31.4,-8];
const amWt = [31,-1.6,31.8,-1.1,32.6,-1.6,33.4,-1,31.4,-2,32.2,-2.2,32.4,-3,32.8,-3.6,33.2,-4,34.8,-5.1,31.4,-7.5,31.6,-8];

const typeNames = ["Rod","MG","BP","Cone","RGC","AM"];
const typeColors = ["#f4756b","#b59e30","#20b24c","#1cb9c1","#6e8fcb","#c96cb2"];
const tsneTicks = [-25,0,25,50];
const tsneTicksY = [-25,0,25];

// ---------- Panel B: dot plot values ----------
const features = ["Pde6g","Nrl","Arr3","Pcp2","Vsx2","Gad1","Gad2","Pax6","Slc32a1","Slc17a6","Apoe","Slc1a3"];
const identities = ["MG_MT","MG_WT","RGC_MT","RGC_WT","AM_MT","AM_WT","BP_MT","BP_WT","Cone_MT","Cone_WT","Rod_MT","Rod_WT"];
const percentExpressed = [
[58,43,5,8,58,3,3,83,3,3,93,83],
[48,30,3,5,53,3,3,83,3,3,93,73],
[28,18,3,7,3,5,5,13,15,43,22,3],
[25,18,3,5,3,5,5,16,18,53,16,3],
[43,23,3,5,3,40,38,103,68,3,38,28],
[25,16,3,3,3,45,35,98,76,3,43,25],
[30,18,3,78,78,3,3,3,3,3,16,3],
[28,14,3,72,83,3,3,3,3,3,18,3],
[93,28,98,7,3,3,3,3,3,3,33,3],
[93,18,103,5,3,3,3,3,3,3,23,3],
[98,93,3,5,3,3,3,3,3,3,13,3],
[103,93,3,5,3,3,3,3,3,3,13,3]
];
const averageExpression = [
[.25,.35,-.6,-.3,.6,-.6,-.6,.7,-.6,-.6,2,1.8],
[.2,.45,-.6,-.4,.85,-.6,-.6,.95,-.6,-.6,1.8,2.2],
[-.6,-.4,-.6,-.4,-.6,-.5,-.5,-.4,1.3,1.9,-.4,-.6],
[-.6,.1,-.6,-.4,-.6,-.5,-.5,.1,.9,2.4,-.3,-.6],
[-.6,-.3,-.6,-.5,-.6,2,2.3,1.9,1.8,-.6,.1,.4],
[-.6,-.4,-.6,-.6,-.6,2.4,1.7,1.9,2.2,-.6,.05,.4],
[-.6,-.4,-.6,2.1,1.8,-.6,-.6,-.6,-.6,-.6,-.3,-.6],
[-.6,-.5,-.6,1.9,2.1,-.6,-.6,-.6,-.6,-.6,-.4,-.6],
[.75,-.4,1.9,-.5,-.6,-.6,-.6,-.6,-.6,-.6,.05,-.6],
[.65,-.5,2.3,-.5,-.6,-.6,-.6,-.6,-.6,-.6,.05,-.6],
[1.8,1.9,-.6,-.4,-.6,-.6,-.6,-.6,-.6,-.6,-.4,-.6],
[2,2.3,-.6,-.4,-.6,-.6,-.6,-.6,-.6,-.6,-.3,-.5]
];
const sizeLegendValues = [0,25,50,75];
const colorLegendValues = [2,1,0];

// ---------- Helpers ----------
const fromRows = rows => rows.flatMap(r => r.slice(1).map(x => ({x, y:r[0]})));
const fromPairs = a => { const o=[]; for(let i=0;i<a.length;i+=2) o.push({x:a[i],y:a[i+1]}); return o; };
const minus = v => String(v).replace('-','\u2212');
const sansFont = s => ({family:'"Liberation Sans",sans-serif',size:s});

function tsneDatasets(rows, groups){
  const all=[fromRows(rows),...groups.map(fromPairs)];
  return all.map((data,i)=>({label:typeNames[i],data,backgroundColor:typeColors[i],borderWidth:0,
    pointRadius:i===0?2.5:2.2,pointHoverRadius:2}));
}
function tsneXAxis(min,max){
  return {type:'linear',min,max,
    afterBuildTicks:s=>{s.ticks=tsneTicks.map(value=>({value}))},
    afterFit:s=>{s.height=69},
    grid:{display:true,drawOnChartArea:false,drawTicks:true,tickLength:6,color:'#111',lineWidth:1.5},
    border:{display:true,color:'#111',width:1.5},
    ticks:{font:sansFont(19.5),color:'#222',maxRotation:0,padding:2,autoSkip:false,callback:minus}};
}
const yMin=-45.4,yMax=48.7;

new Chart(document.getElementById('left'),{type:'scatter',
  data:{datasets:tsneDatasets(rodMtRows.concat(rodMtExtra),[mgMt,bpMt,coneMt,rgcMt,amMt])},
  options:{responsive:false,animation:false,events:[],
    layout:{padding:{left:0,right:6,top:22,bottom:0}},
    plugins:{legend:{display:false},tooltip:{enabled:false}},
    scales:{x:tsneXAxis(-47.4,52.3),
      y:{type:'linear',min:yMin,max:yMax,
        afterBuildTicks:s=>{s.ticks=tsneTicksY.map(value=>({value}))},
        afterFit:s=>{s.width=100},
        grid:{display:true,drawOnChartArea:false,drawTicks:true,tickLength:6,color:'#111',lineWidth:1.5},
        border:{display:true,color:'#111',width:1.5},
        title:{display:true,text:'tSNE_2',font:sansFont(22.5),color:'#111',padding:{top:24,bottom:0}},
        ticks:{font:sansFont(19.5),color:'#222',padding:2,callback:minus}}}}});

new Chart(document.getElementById('right'),{type:'scatter',
  data:{datasets:tsneDatasets(rodWtRows.concat(rodWtExtra),[mgWt,bpWt,coneWt,rgcWt,amWt])},
  options:{responsive:false,animation:false,events:[],
    layout:{padding:{left:7,right:29,top:22,bottom:0}},
    plugins:{legend:{display:false},tooltip:{enabled:false}},
    scales:{x:tsneXAxis(-47.7,52.05),y:{type:'linear',display:false,min:yMin,max:yMax}}}});

// Dot plot
const radiusOf = p => 0.9+0.1*p;
const stops=[[-.74,[211,211,211]],[0,[201,191,220]],[1,[141,112,179]],[1.7,[106,85,166]],[2.49,[59,83,165]]];
function colorOf(v){
  for(let i=1;i<stops.length;i++){ if(v<=stops[i][0]){
    const [a,ca]=stops[i-1],[b,cb]=stops[i],t=Math.max(0,(v-a)/(b-a));
    return 'rgb('+ca.map((c,k)=>Math.round(c+(cb[k]-c)*t)).join(',')+')';
  }}
  return 'rgb(59,83,165)';
}
const dotData=[],dotColors=[];
identities.forEach((_,r)=>features.forEach((_,c)=>{
  dotData.push({x:c,y:r,r:radiusOf(percentExpressed[r][c])});
  dotColors.push(colorOf(averageExpression[r][c]));
}));
new Chart(document.getElementById('dots'),{type:'bubble',
  data:{datasets:[{label:'Percent Expressed',data:dotData,backgroundColor:dotColors,borderWidth:0}]},
  options:{responsive:false,animation:false,events:[],
    layout:{padding:{left:0,right:14,top:29,bottom:0}},
    plugins:{legend:{display:false},tooltip:{enabled:false}},
    scales:{
      x:{type:'linear',min:-.6,max:11.6,
        afterBuildTicks:s=>{s.ticks=features.map((_,i)=>({value:i}))},
        afterFit:s=>{s.height=92},
        grid:{display:true,drawOnChartArea:false,drawTicks:true,tickLength:6,color:'#111',lineWidth:1.5},
        border:{display:true,color:'#111',width:1.5},
        title:{display:true,text:'Features',font:sansFont(20),color:'#111',padding:0},
        ticks:{font:sansFont(17.3),color:'#222',autoSkip:false,minRotation:45,maxRotation:45,padding:4,labelOffset:6,callback:v=>features[v]}},
      y:{type:'linear',reverse:true,min:-.6,max:11.6,
        afterBuildTicks:s=>{s.ticks=identities.map((_,i)=>({value:i}))},
        afterFit:s=>{s.width=127},
        grid:{display:true,drawOnChartArea:false,drawTicks:true,tickLength:6,color:'#111',lineWidth:1.5},
        border:{display:true,color:'#111',width:1.5},
        title:{display:true,text:'Identity',font:sansFont(20.5),color:'#111',padding:{top:12,bottom:0}},
        ticks:{font:sansFont(17.6),color:'#222',autoSkip:false,padding:3,callback:v=>identities[v]}}}}});

// Legends
const el=(h,html)=>{document.getElementById(h).insertAdjacentHTML('beforeend',html)};
const typeY=[259,285,310,335,361,386];
typeNames.forEach((n,i)=>{
  el('typeLegend',`<div class="d" style="left:871px;top:${typeY[i]}px;width:13px;height:13px;background:${typeColors[i]}"></div>
  <div class="t" style="left:895px;top:${typeY[i]-10}px;font-size:20px">${n}</div>`);
});
const sizeY=[944,967,990,1012];
sizeLegendValues.forEach((v,i)=>{
  const d=2*radiusOf(v);
  el('sizeLegend',`<div class="d" style="left:778px;top:${sizeY[i]}px;width:${d}px;height:${d}px;background:#000"></div>
  <div class="t" style="left:799px;top:${sizeY[i]-8}px;font-size:17.5px">${v}</div>`);
});
const colY=[1091,1126,1161];
colorLegendValues.forEach((v,i)=>{
  el('colorLegend',`<div style="position:absolute;left:766px;top:${colY[i]}px;width:5px;height:1px;background:#ffffff80"></div>
  <div style="position:absolute;left:784px;top:${colY[i]}px;width:5px;height:1px;background:#ffffff80"></div>
  <div class="t" style="left:799px;top:${colY[i]-8}px;font-size:17.5px">${v}</div>`);
});
</script>
</body></html>
